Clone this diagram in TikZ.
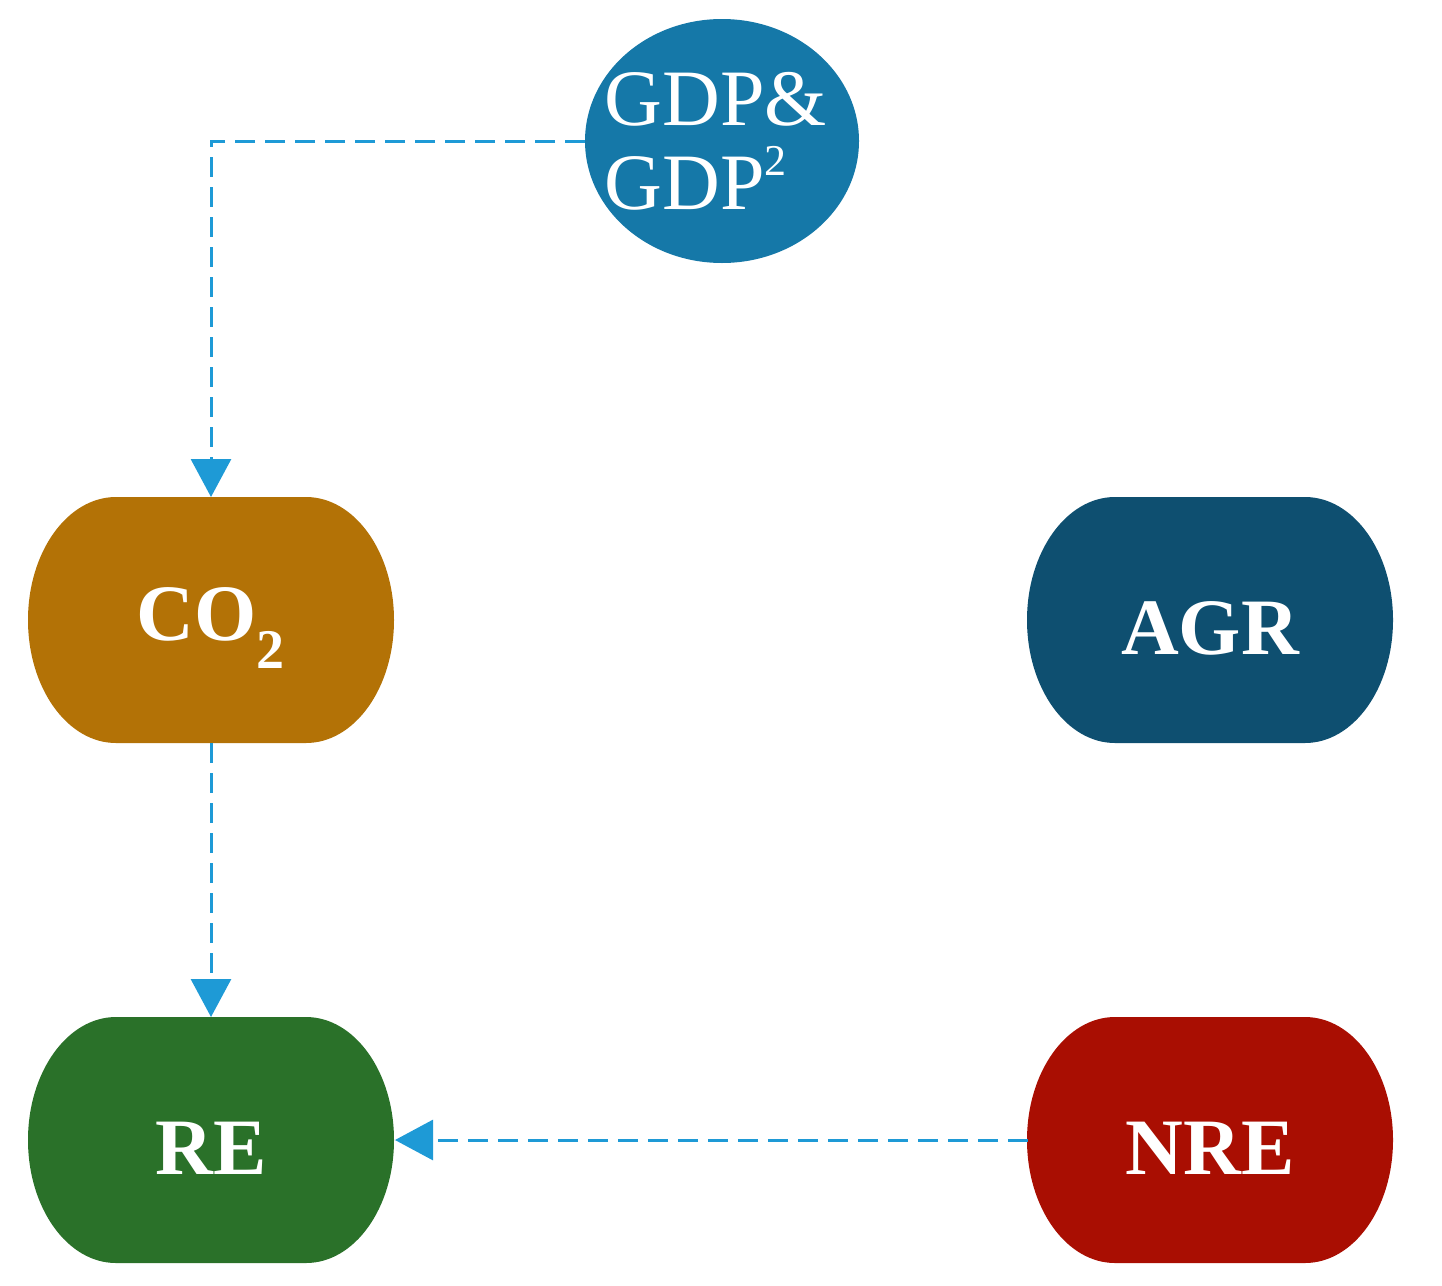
\documentclass[tikz,border=0pt]{standalone}
\usepackage{fontspec}
\setmainfont{Liberation Serif}
\usetikzlibrary{arrows.meta}
\definecolor{cgdp}{HTML}{1578A8}
\definecolor{cco}{HTML}{B37206}
\definecolor{cagr}{HTML}{0E4F70}
\definecolor{cre}{HTML}{2A7129}
\definecolor{cnre}{HTML}{A90E02}
\definecolor{carr}{HTML}{1E9AD6}
\begin{document}
\begin{tikzpicture}[x=1pt,y=-1pt,
  blob/.style={draw=none,minimum width=366pt,minimum height=246pt,text=white,
    font=\fontsize{80}{90}\selectfont\bfseries},
  conn/.style={draw=carr,line width=3pt,dash pattern=on 20pt off 10pt,
    -{Triangle[length=38pt,width=40pt]}}]
\useasboundingbox (0,0) rectangle (1442,1285);
\newcommand\blobshape[3]{%
  \fill[#3] ({#1-95},{#2-123}) -- ({#1+95},{#2-123})
    .. controls ({#1+143.6},{#2-123}) and ({#1+183},{#2-68}) .. ({#1+183},{#2})
    .. controls ({#1+183},{#2+68}) and ({#1+143.6},{#2+123}) .. ({#1+95},{#2+123})
    -- ({#1-95},{#2+123})
    .. controls ({#1-143.6},{#2+123}) and ({#1-183},{#2+68}) .. ({#1-183},{#2})
    .. controls ({#1-183},{#2-68}) and ({#1-143.6},{#2-123}) .. cycle;}
\blobshape{211}{620}{cco}
\blobshape{1210}{620}{cagr}
\blobshape{211}{1140}{cre}
\blobshape{1210}{1140}{cnre}
\fill[cgdp] (722,141) ellipse[x radius=137,y radius=122];
\node[blob] (co) at (211,628) {CO\textsubscript{2}};
\node[blob] (agr) at (1210,628) {AGR};
\node[blob] (re) at (211,1148) {RE};
\node[blob] (nre) at (1210,1148) {NRE};
\node[inner sep=0pt,text=white,align=left,font=\fontsize{80}{84}\selectfont] (gdp) at (716,141)
  {GDP\&\\GDP\raisebox{0.42em}{\fontsize{44}{44}\selectfont 2}};
\coordinate (gw) at (585,141);
\coordinate (ct) at (211,497);
\coordinate (cb) at (211,743);
\coordinate (rt) at (211,1017);
\coordinate (nw) at (1028,1140);
\coordinate (re2) at (395,1140);
\draw[conn] (gw) -| (ct);
\draw[conn] (cb) -- (rt);
\draw[conn] (nw) -- (re2);
\end{tikzpicture}
\end{document}
